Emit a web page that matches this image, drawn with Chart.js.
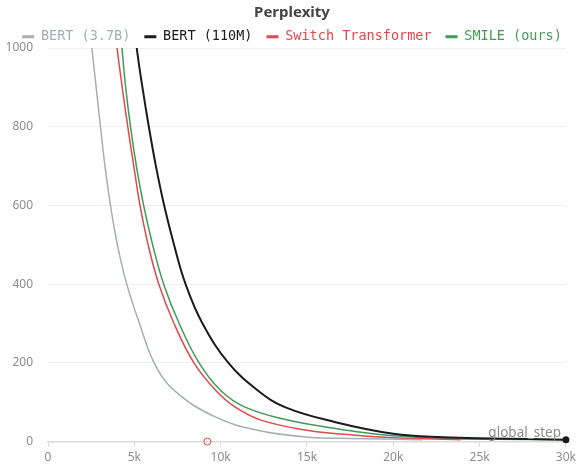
<!DOCTYPE html>
<html>
<head>
<meta charset="utf-8">
<script src="https://cdn.jsdelivr.net/npm/chart.js@4/dist/chart.umd.min.js"></script>
<style>
  body { margin: 0; background: #fff; }
  #chart { display: block; }
</style>
</head>
<body>
<canvas id="chart" width="580" height="469"></canvas>
<script>
const seriesNames = ["BERT (3.7B)", "BERT (110M)", "Switch Transformer", "SMILE (ours)"];
const seriesColors = ["#a6aeb3", "#1b1b1b", "#e2474b", "#3f9c58"];

const bertLargeSteps = [2250, 2540, 2790, 3040, 3300, 3620, 4020, 4560, 5300, 6150, 7310, 9720, 12220, 15100, 17500, 21700];
const bertLargePpl = [1120, 1000, 900, 800, 700, 600, 500, 400, 300, 200, 130, 62, 28, 11, 8, 5];

const bertBaseSteps = [4850, 5140, 5470, 5840, 6250, 6730, 7300, 7970, 8950, 10450, 12150, 13760, 16600, 20000, 22900, 25700, 30000];
const bertBasePpl = [1120, 1000, 900, 800, 700, 600, 500, 400, 300, 200, 130, 87, 50, 20, 11, 8, 5];

const switchSteps = [3700, 4000, 4300, 4620, 4970, 5330, 5800, 6420, 7300, 8450, 9720, 10870, 12390, 15100, 17400, 20000, 23900];
const switchPpl = [1120, 1000, 900, 800, 700, 600, 500, 400, 300, 200, 130, 87, 54, 28, 18, 10, 5];

const smileSteps = [4150, 4290, 4500, 4780, 5120, 5540, 6060, 6700, 7600, 8750, 10000, 11450, 13950, 16250, 17400, 20000, 22900, 26000, 30000];
const smilePpl = [1120, 1000, 900, 800, 700, 600, 500, 400, 300, 200, 130, 87, 54, 36, 28, 15, 8, 6, 5];

const markerSteps = [9230];
const markerPpl = [0];

const xTicks = [0, 5000, 10000, 15000, 20000, 25000, 30000];
const yTicks = [0, 200, 400, 600, 800, 1000];


function toPoints(xs, ys) {
    return xs.map((x, i) => ({ x: x, y: ys[i] }));
}


function lineDataset(index, xs, ys, width) {
    return {
        label: seriesNames[index],
        data: toPoints(xs, ys),
        borderColor: seriesColors[index],
        backgroundColor: seriesColors[index],
        borderWidth: width,
        tension: 0.4,
        pointRadius: 0,
        pointHoverRadius: 0
    };
}


const blackSet = lineDataset(1, bertBaseSteps, bertBasePpl, 2);
blackSet.pointRadius = (ctx) => ctx.dataIndex === bertBaseSteps.length - 1 ? 2.5 : 0;
blackSet.clip = { left: 0, top: 0, right: 6, bottom: 6 };

const datasets = [
    lineDataset(0, bertLargeSteps, bertLargePpl, 1.5),
    blackSet,
    lineDataset(2, switchSteps, switchPpl, 1.5),
    lineDataset(3, smileSteps, smilePpl, 1.5),
    {
        type: "scatter",
        label: "marker",
        data: toPoints(markerSteps, markerPpl),
        borderColor: "#e2474b",
        backgroundColor: "rgba(255,255,255,0)",
        borderWidth: 1,
        pointRadius: 3.5,
        clip: false
    }
];


// pull the plot up closer to the legend row
const legendShrink = {
    id: "legendShrink",
    beforeLayout(chart) {
        const legend = chart.legend;
        if (!legend || legend._shrunk) return;
        const fit = legend.fit;
        legend.fit = function () {
            fit.call(this);
            this.height -= 5.5;
        };
        legend._shrunk = true;
    }
};


const stepLabel = {
    id: "stepLabel",
    afterDatasetsDraw(chart) {
        const ctx = chart.ctx;
        const area = chart.chartArea;
        ctx.save();
        ctx.font = "13.5px 'Noto Sans'";
        ctx.fillStyle = "#8c8c8c";
        ctx.textAlign = "right";
        ctx.textBaseline = "alphabetic";
        ctx.fillText("global_step", area.right - 5, area.bottom - 5);
        ctx.restore();
    }
};


new Chart(document.getElementById("chart"), {
    type: "line",
    data: { datasets: datasets },
    plugins: [legendShrink, stepLabel],
    options: {
        responsive: false,
        animation: false,
        layout: { padding: { left: 4, right: 0, top: 0, bottom: 0 } },
        plugins: {
            title: {
                display: true,
                text: "Perplexity",
                color: "#444",
                font: { family: "'Noto Sans'", size: 15, weight: "bold" },
                padding: { top: 4, bottom: -6 }
            },
            legend: {
                labels: {
                    font: { family: "'DejaVu Sans Mono'", size: 13.5 },
                    boxWidth: 12,
                    boxHeight: 3,
                    padding: 14,
                    filter: (item) => item.datasetIndex < 4,
                    generateLabels(chart) {
                        const items = Chart.defaults.plugins.legend.labels.generateLabels(chart);
                        items.forEach((item) => {
                            const c = seriesColors[item.datasetIndex];
                            item.fillStyle = c;
                            item.strokeStyle = c;
                            item.lineWidth = 0;
                            item.fontColor = c;
                        });
                        return items;
                    }
                }
            },
            tooltip: { enabled: false }
        },
        scales: {
            x: {
                type: "linear",
                min: 0,
                max: 30000,
                afterBuildTicks: (axis) => { axis.ticks = xTicks.map((v) => ({ value: v })); },
                ticks: {
                    color: "#8c8c8c",
                    font: { family: "'Noto Sans'", size: 12 },
                    padding: 4,
                    callback: (v) => v === 0 ? "0" : (v / 1000) + "k"
                },
                grid: { drawOnChartArea: false, color: "#dcdcdc", tickLength: 5 },
                border: { color: "#dcdcdc", width: 1.5 }
            },
            y: {
                min: 0,
                max: 1000,
                afterBuildTicks: (axis) => { axis.ticks = yTicks.map((v) => ({ value: v })); },
                afterFit: (axis) => { axis.width = 44; },
                ticks: {
                    color: "#8c8c8c",
                    font: { family: "'Noto Sans'", size: 12 },
                    padding: 15,
                    callback: (v) => String(v)
                },
                grid: { color: "#efefef", drawTicks: false },
                border: { display: false }
            }
        }
    }
});
</script>
</body>
</html>
